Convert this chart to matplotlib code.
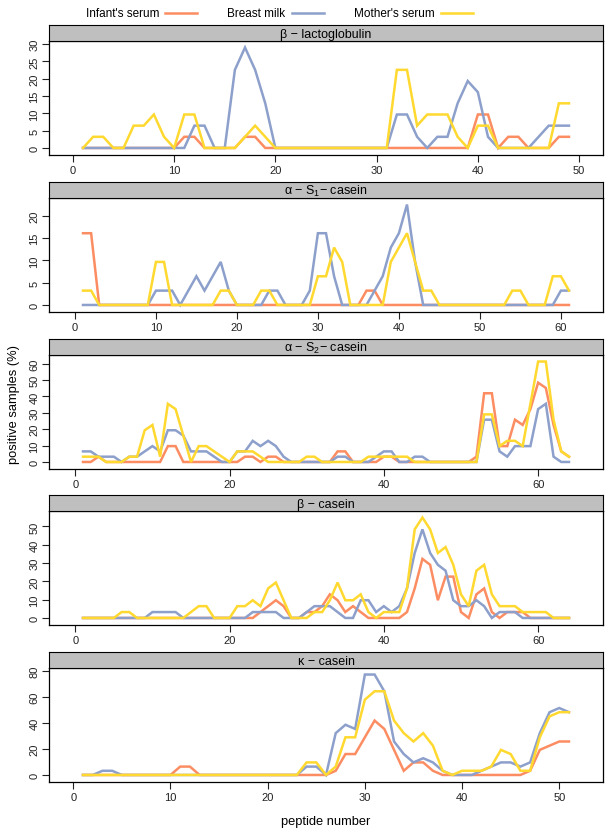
import numpy as np
import matplotlib
matplotlib.use('Agg')
import matplotlib.pyplot as plt
from matplotlib.lines import Line2D

plt.rcParams['font.family'] = ['Liberation Sans', 'DejaVu Sans']

# number of positive samples (out of 31) for each peptide
N_SAMPLES = 31

blg_infant = [0, 0, 0, 0, 0, 0, 0, 0, 0, 0,  1, 1, 0, 0, 0, 0, 1, 1, 0, 0,
              0, 0, 0, 0, 0, 0, 0, 0, 0, 0,  0, 0, 0, 0, 0, 0, 0, 0, 0, 3,
              3, 0, 1, 1, 0, 0, 0, 1, 1]
blg_milk = [0, 0, 0, 0, 0, 0, 0, 0, 0, 0,  0, 2, 2, 0, 0, 7, 9, 7, 4, 0,
            0, 0, 0, 0, 0, 0, 0, 0, 0, 0,  0, 3, 3, 1, 0, 1, 1, 4, 6, 5,
            1, 0, 0, 0, 0, 1, 2, 2, 2]
blg_mother = [0, 1, 1, 0, 0, 2, 2, 3, 1, 0,  3, 3, 0, 0, 0, 0, 1, 2, 1, 0,
              0, 0, 0, 0, 0, 0, 0, 0, 0, 0,  0, 7, 7, 2, 3, 3, 3, 1, 0, 2,
              2, 0, 0, 0, 0, 0, 0, 4, 4]

as1_infant = [5, 5, 0, 0, 0, 0, 0, 0, 0, 0,  0, 0, 0, 0, 0, 0, 0, 0, 0, 0,
              0, 0, 0, 0, 0, 0, 0, 0, 0, 0,  0, 0, 0, 0, 0, 1, 1, 0, 0, 0,
              0, 0, 0, 0, 0, 0, 0, 0, 0, 0,  0, 0, 0, 0, 0, 0, 0, 0, 0, 0, 0]
as1_milk = [0, 0, 0, 0, 0, 0, 0, 0, 0, 1,  1, 1, 0, 1, 2, 1, 2, 3, 1, 0,
            0, 0, 0, 1, 1, 0, 0, 0, 1, 5,  5, 2, 0, 0, 0, 0, 1, 2, 4, 5,
            7, 3, 0, 0, 0, 0, 0, 0, 0, 0,  0, 0, 0, 0, 0, 0, 0, 0, 0, 1, 1]
as1_mother = [1, 1, 0, 0, 0, 0, 0, 0, 0, 3,  3, 0, 0, 0, 0, 0, 0, 1, 1, 0,
              0, 0, 1, 1, 0, 0, 0, 0, 0, 2,  2, 4, 3, 0, 0, 0, 0, 0, 3, 4,
              5, 3, 1, 1, 0, 0, 0, 0, 0, 0,  0, 0, 0, 1, 1, 0, 0, 0, 2, 2, 1]

as2_infant = [0, 0, 1, 0, 0, 0, 0, 0, 0, 0,  0, 3, 3, 0, 0, 0, 0, 0, 0, 0,
              0, 1, 1, 0, 1, 1, 0, 0, 0, 0,  0, 0, 0, 2, 2, 0, 0, 0, 0, 1,
              1, 0, 0, 0, 0, 0, 0, 0, 0, 0,  0, 1, 13, 13, 3, 3, 8, 7, 10, 15,
              14, 7, 2, 1]
as2_milk = [2, 2, 1, 1, 1, 0, 1, 1, 2, 3,  2, 6, 6, 5, 2, 2, 2, 1, 0, 0,
            2, 2, 4, 3, 4, 3, 1, 0, 0, 0,  0, 0, 0, 1, 1, 0, 0, 0, 1, 2,
            2, 0, 0, 1, 1, 0, 0, 0, 0, 0,  0, 0, 8, 8, 2, 1, 3, 3, 3, 10,
            11, 1, 0, 0]
as2_mother = [1, 1, 1, 0, 0, 0, 1, 1, 6, 7,  1, 11, 10, 5, 0, 3, 3, 2, 1, 0,
              2, 2, 2, 1, 0, 0, 0, 0, 0, 1,  1, 0, 0, 0, 0, 0, 0, 1, 1, 1,
              1, 1, 1, 0, 0, 0, 0, 0, 0, 0,  0, 0, 9, 9, 3, 4, 4, 3, 11, 19,
              19, 8, 2, 1]

bcn_infant = [0, 0, 0, 0, 0, 0, 0, 0, 0, 0,  0, 0, 0, 0, 0, 0, 0, 0, 0, 0,
              0, 0, 0, 1, 2, 3, 2, 0, 0, 1,  1, 2, 4, 3, 1, 2, 1, 0, 0, 0,
              0, 0, 1, 5, 10, 9, 3, 7, 7, 1,  0, 4, 5, 1, 0, 1, 1, 1, 0, 0,
              0, 0, 0, 0]
bcn_milk = [0, 0, 0, 0, 0, 0, 0, 0, 0, 1,  1, 1, 1, 0, 0, 0, 0, 0, 0, 0,
            0, 0, 1, 1, 1, 1, 0, 0, 0, 1,  2, 2, 2, 1, 0, 0, 3, 3, 1, 2,
            1, 2, 5, 11, 15, 11, 9, 8, 3, 2,  2, 3, 2, 0, 1, 1, 1, 0, 0, 0,
            0, 0, 0, 0]
bcn_mother = [0, 0, 0, 0, 0, 1, 1, 0, 0, 0,  0, 0, 0, 0, 1, 2, 2, 0, 0, 0,
              2, 2, 3, 2, 5, 6, 3, 0, 0, 0,  1, 1, 3, 6, 3, 3, 4, 1, 0, 1,
              1, 1, 5, 15, 17, 15, 11, 12, 9, 4,  2, 8, 9, 4, 2, 2, 2, 1, 1, 1,
              1, 0, 0, 0]

kcn_infant = [0, 0, 0, 0, 0, 0, 0, 0, 0, 0,  2, 2, 0, 0, 0, 0, 0, 0, 0, 0,
              0, 0, 0, 0, 0, 0, 1, 5, 5, 9,  13, 11, 6, 1, 3, 3, 1, 0, 0, 0,
              0, 0, 0, 0, 0, 0, 1, 6, 7, 8, 8]
kcn_milk = [0, 0, 1, 1, 0, 0, 0, 0, 0, 0,  0, 0, 0, 0, 0, 0, 0, 0, 0, 0,
            0, 0, 0, 2, 2, 0, 10, 12, 11, 24,  24, 20, 8, 5, 3, 4, 3, 1, 0, 0,
            0, 1, 2, 3, 3, 2, 3, 10, 15, 16, 15]
kcn_mother = [0, 0, 0, 0, 0, 0, 0, 0, 0, 0,  0, 0, 0, 0, 0, 0, 0, 0, 0, 0,
              0, 0, 0, 3, 3, 0, 2, 9, 9, 18,  20, 20, 13, 10, 8, 10, 7, 1, 0, 1,
              1, 1, 2, 6, 5, 1, 1, 9, 14, 15, 15]

titles = ['\u03b2 \u2212 lactoglobulin',
          '\u03b1 \u2212 $\\mathregular{S_1}$\u2212 casein',
          '\u03b1 \u2212 $\\mathregular{S_2}$\u2212 casein',
          '\u03b2 \u2212 casein',
          '\u03ba \u2212 casein']
panels = [(blg_infant, blg_milk, blg_mother),
          (as1_infant, as1_milk, as1_mother),
          (as2_infant, as2_milk, as2_mother),
          (bcn_infant, bcn_milk, bcn_mother),
          (kcn_infant, kcn_milk, kcn_mother)]
x_ticks = [np.arange(0, 51, 10), np.arange(0, 61, 10), np.arange(0, 61, 20),
           np.arange(0, 61, 20), np.arange(0, 51, 10)]
y_ticks = [np.arange(0, 31, 5), np.arange(0, 21, 5), np.arange(0, 61, 10),
           np.arange(0, 51, 10), np.arange(0, 81, 20)]

groups = ["Infant's serum", 'Breast milk', "Mother's serum"]
colors = ['#FC8D62', '#8DA0CB', '#FFD92F']

W, H = 612, 837
fig = plt.figure(figsize=(W / 100, H / 100), dpi=100)

left, right = 49, 603
tops = [26, 183, 340, 496, 653]
strip_h, panel_h = 15.5, 114.5

for i, (series, title) in enumerate(zip(panels, titles)):
    top = tops[i]
    ax = fig.add_axes([left / W, 1 - (top + strip_h + panel_h) / H,
                       (right - left) / W, panel_h / H])
    sax = fig.add_axes([left / W, 1 - (top + strip_h) / H,
                        (right - left) / W, strip_h / H])
    sax.set_facecolor('#bfbfbf')
    sax.set_xticks([])
    sax.set_yticks([])
    sax.text(0.5, 0.45, title, ha='center', va='center', fontsize=9,
             transform=sax.transAxes)

    allv = []
    for vals, c in zip(series, colors):
        pct = np.array(vals) / N_SAMPLES * 100
        x = np.arange(1, len(pct) + 1)
        ax.plot(x, pct, color=c, lw=1.8, solid_joinstyle='miter')
        allv.append(pct)
    n = len(series[0])
    pad = 0.07 * (n - 1)
    ax.set_xlim(1 - pad, n + pad)
    ymax = max(v.max() for v in allv)
    ax.set_ylim(-0.07 * ymax, ymax * 1.07)
    ax.set_xticks(x_ticks[i])
    ax.set_yticks(y_ticks[i])
    ax.tick_params(direction='out', length=5, width=0.8, labelsize=8,
                   pad=2, colors='#222222')
    plt.setp(ax.get_yticklabels(), rotation=90, va='center')
    for s in ax.spines.values():
        s.set_linewidth(0.9)

fig.text(14 / W, 1 - 405 / H, 'positive samples (%)', rotation=90,
         ha='center', va='center', fontsize=9.3)
fig.text((left + right) / 2 / W, 1 - 822 / H, 'peptide number',
         ha='center', va='center', fontsize=9.3)

# legend on top
text_x = [86, 227, 354]
line_x = [(165, 197), (292, 324), (441, 473)]
ly = 1 - 14 / H
for g, c, tx, (l0, l1) in zip(groups, colors, text_x, line_x):
    fig.text(tx / W, ly, g, ha='left', va='center', fontsize=8.5)
    fig.add_artist(Line2D([l0 / W, l1 / W], [ly, ly], color=c, lw=1.8,
                          transform=fig.transFigure))

fig.savefig('out.png', dpi=100)
